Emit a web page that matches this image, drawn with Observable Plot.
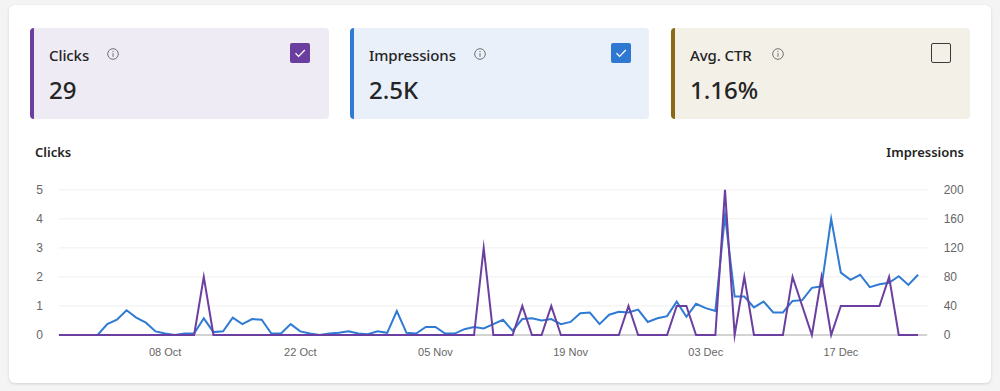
<!DOCTYPE html>
<html>
<head>
<meta charset="utf-8">
<script src="https://cdn.jsdelivr.net/npm/d3@7"></script>
<script src="https://cdn.jsdelivr.net/npm/@observablehq/plot@0.6"></script>
<style>
  html, body { margin: 0; padding: 0; }
  body { width: 1000px; height: 391px; background: #f4f4f4; overflow: hidden; font-family: "Noto Sans", "Open Sans", sans-serif; color: #242424; }
  #page { position: relative; width: 1000px; height: 391px; }
  .panel { position: absolute; left: 9px; top: 5px; width: 982px; height: 378px; background: #fff; border-radius: 6px; box-shadow: 0 1px 3px rgba(0,0,0,0.14); }
  .card { position: absolute; top: 28px; width: 299px; height: 91px; border-radius: 4px; box-sizing: border-box; border-left: 4px solid; }
  .card .title { position: absolute; left: 15px; top: 17px; font-size: 15px; font-weight: 500; line-height: 20px; white-space: nowrap; letter-spacing: -0.1px; }
  .card .value { position: absolute; left: 15px; top: 47px; font-size: 24px; font-weight: 500; line-height: 30px; white-space: nowrap; }
  .card .info { position: absolute; top: 20px; width: 12px; height: 12px; }
  .card .box { position: absolute; top: 15px; width: 20px; height: 20px; border-radius: 2px; box-sizing: border-box; }
  .ctitle { position: absolute; top: 143px; font-size: 13px; font-weight: 600; line-height: 18px; color: #242424; }
  #chart { position: absolute; left: 0; top: 170px; width: 1000px; height: 200px; }
</style>
</head>
<body>
<div id="page">
  <div class="panel"></div>
  <div id="cards"></div>
  <div class="ctitle" style="left:35px;">Clicks</div>
  <div class="ctitle" style="right:36px;">Impressions</div>
  <div id="chart"></div>
</div>
<script>
// ---- data ----
const startDate = "2023-09-27";
const endDate = "2023-12-26"; // exclusive end of x domain
const clicks = [
  0,0,0,0,0,0,0,0,0,0,
  0,0,0,0,0,2,0,0,0,0,
  0,0,0,0,0,0,0,0,0,0,
  0,0,0,0,0,0,0,0,0,0,
  0,0,0,0,3,0,0,0,1,0,
  0,1,0,0,0,0,0,0,0,1,
  0,0,0,0,1,1,0,0,0,5,
  0,2,0,0,0,0,2,1,0,2,
  0,1,1,1,1,1,2,0,0,0
];
const impressions = [
  0,0,0,0,0,15,21,34,24,17,
  5,2,0,2,2,23,4,5,24,15,
  22,21,2,2,15,5,2,0,2,3,
  5,2,1,5,3,33,3,2,11,11,
  2,2,8,11,9,15,21,6,22,23,
  20,22,15,18,30,31,15,28,32,31,
  35,18,23,26,46,25,43,37,33,165,
  53,53,38,46,31,31,47,48,65,67,
  160,86,76,83,66,70,72,81,69,83
];
const tickDates = ["2023-10-08","2023-10-22","2023-11-05","2023-11-19","2023-12-03","2023-12-17"];
const clickTicks = [0,1,2,3,4,5];
const impressionTicks = [0,40,80,120,160,200];
const cardTitles = ["Clicks","Impressions","Avg. CTR"];
const cardValues = ["29","2.5K","1.16%"];
const cardChecked = [true, true, false];

// ---- cards ----
const cardStyles = [
  {left: 30, bg: "#efebf5", border: "#6b3fa0", info: 73, box: 256, boxFill: "#6a3e9e"},
  {left: 350, bg: "#e9f0fa", border: "#2f7bd4", info: 120, box: 257, boxFill: "#2f78d2"},
  {left: 671, bg: "#f3f0e8", border: "#8a6a16", info: 97, box: 256, boxFill: null}
];
const cardsEl = document.getElementById("cards");
cardTitles.forEach((t, i) => {
  const s = cardStyles[i];
  const c = document.createElement("div");
  c.className = "card";
  c.style.left = s.left + "px";
  c.style.background = s.bg;
  c.style.borderLeftColor = s.border;
  const boxHtml = cardChecked[i]
    ? `<div class="box" style="left:${s.box}px;background:${s.boxFill};"><svg width="20" height="20" style="position:absolute;left:0;top:0"><polyline points="5.5,10.3 8.6,13.4 14.8,7" fill="none" stroke="#fff" stroke-width="1.3"/></svg></div>`
    : `<div class="box" style="left:${s.box}px;border:1.5px solid #3a3a3a;background:transparent;"></div>`;
  c.innerHTML = `<div class="title">${t}</div>
    <svg class="info" style="left:${s.info}px" viewBox="0 0 12 12"><circle cx="6" cy="6" r="5.3" fill="none" stroke="#707070" stroke-width="1"/><circle cx="6" cy="3.6" r="0.7" fill="#707070"/><line x1="6" y1="5.2" x2="6" y2="8.8" stroke="#707070" stroke-width="1"/></svg>
    <div class="value">${cardValues[i]}</div>${boxHtml}`;
  cardsEl.appendChild(c);
});

// ---- chart ----
const dates = d3.utcDay.range(new Date(startDate), new Date(endDate));
const rows = dates.map((d, i) => ({date: d, clicks: clicks[i], impressions: impressions[i]}));
const ratio = impressionTicks[impressionTicks.length - 1] / clickTicks[clickTicks.length - 1];
const fmt = d3.utcFormat("%d %b");

const chart = Plot.plot({
  width: 1000,
  height: 200,
  marginLeft: 58.5,
  marginRight: 72.8,
  marginTop: 19.3,
  marginBottom: 35.5,
  style: {fontFamily: "'Liberation Sans', Arial, sans-serif", fontSize: "12px", background: "transparent"},
  x: {type: "utc", domain: [new Date(startDate), new Date(endDate)]},
  y: {domain: [0, 5]},
  marks: [
    Plot.ruleY(clickTicks.slice(1), {stroke: "#efefef", strokeWidth: 1}),
    Plot.ruleY([0], {stroke: "#a6a6a6", strokeWidth: 1}),
    Plot.axisX(tickDates.map(d => new Date(d)), {tickSize: 0, tickPadding: 13, tickFormat: fmt, fill: "#666", fontSize: 11, label: null}),
    Plot.axisY(clickTicks, {anchor: "left", tickSize: 0, tickPadding: 16, fill: "#666", label: null}),
    Plot.axisY(clickTicks, {anchor: "right", tickSize: 0, tickPadding: 16, fill: "#666", label: null, tickFormat: d => String(d * ratio)}),
    Plot.line(rows, {x: "date", y: d => d.impressions / ratio, stroke: "#2f7bd4", strokeWidth: 2, strokeLinejoin: "miter", strokeMiterlimit: 10, strokeLinecap: "butt"}),
    Plot.line(rows, {x: "date", y: "clicks", stroke: "#6b3fa0", strokeWidth: 2, strokeLinejoin: "miter", strokeMiterlimit: 10, strokeLinecap: "butt"})
  ]
});
document.getElementById("chart").appendChild(chart);
</script>
</body>
</html>
